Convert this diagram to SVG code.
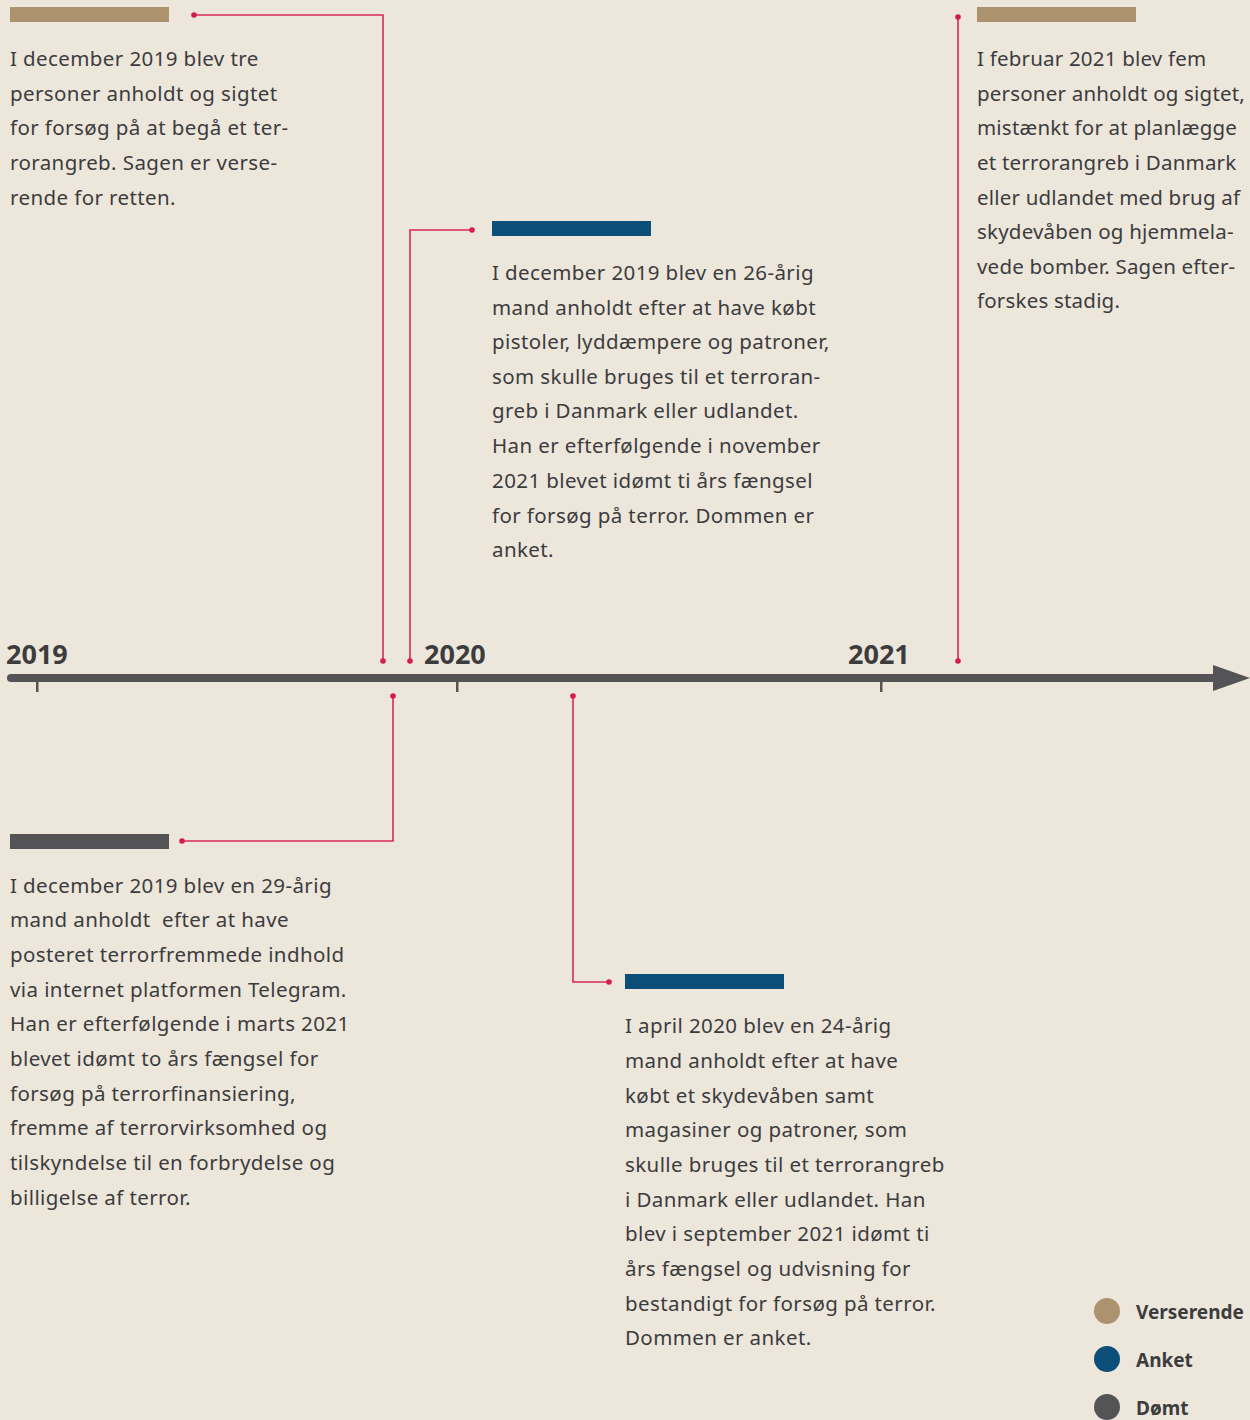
<svg xmlns="http://www.w3.org/2000/svg" width="1250" height="1420" viewBox="0 0 1250 1420">
<style>
.t{font-family:"Noto Sans","DejaVu Sans",sans-serif;font-size:20.5px;letter-spacing:0.4px;fill:#3c3c3e;white-space:pre}
.t3{letter-spacing:0.2px}
.yr{font-family:"Noto Sans","DejaVu Sans",sans-serif;font-size:27px;font-weight:bold;fill:#3c3c3e}
.lg{font-family:"Noto Sans","DejaVu Sans",sans-serif;font-size:19px;font-weight:bold;fill:#3c3c3e}
.c{fill:none;stroke:#d6295a;stroke-width:1.6}
.d{fill:#d41c4f}
.tan{fill:#ad9270}.blue{fill:#0b4f78}.gray{fill:#545457}
</style>
<rect width="1250" height="1420" fill="#ece6db"/>
<g id="axis">
<line x1="11" y1="678" x2="1216" y2="678" stroke="#545457" stroke-width="8" stroke-linecap="round"/>
<polygon points="1213,665 1250,678 1213,691" fill="#545457"/>
<rect x="36" y="678" width="2.5" height="14" fill="#545457"/>
<rect x="456" y="678" width="2.5" height="14" fill="#545457"/>
<rect x="880" y="678" width="2.5" height="14" fill="#545457"/>
<text class="yr" x="6" y="664">2019</text>
<text class="yr" x="424" y="664">2020</text>
<text class="yr" x="848" y="664">2021</text>
</g>
<g id="connectors">
<polyline class="c" points="194,15 383,15 383,661"/>
<circle class="d" cx="194" cy="15" r="2.8"/><circle class="d" cx="383" cy="661" r="2.8"/>
<polyline class="c" points="472,230 410,230 410,661"/>
<circle class="d" cx="472" cy="230" r="2.8"/><circle class="d" cx="410" cy="661" r="2.8"/>
<line class="c" x1="958" y1="17" x2="958" y2="661"/>
<circle class="d" cx="958" cy="17" r="2.8"/><circle class="d" cx="958" cy="661" r="2.8"/>
<polyline class="c" points="393,696 393,841 182,841"/>
<circle class="d" cx="393" cy="696" r="2.8"/><circle class="d" cx="182" cy="841" r="2.8"/>
<polyline class="c" points="573,696 573,982 609,982"/>
<circle class="d" cx="573" cy="696" r="2.8"/><circle class="d" cx="609" cy="982" r="2.8"/>
</g>
<g id="event1">
<rect class="tan" x="10" y="7" width="159" height="15"/>
<text class="t" x="10" y="66">I december 2019 blev tre</text>
<text class="t" x="10" y="101">personer anholdt og sigtet</text>
<text class="t" x="10" y="135">for forsøg på at begå et ter-</text>
<text class="t" x="10" y="170">rorangreb. Sagen er verse-</text>
<text class="t" x="10" y="205">rende for retten.</text>
</g>
<g id="event2">
<rect class="blue" x="492" y="221" width="159" height="15"/>
<text class="t" x="492" y="280">I december 2019 blev en 26-årig</text>
<text class="t" x="492" y="315">mand anholdt efter at have købt</text>
<text class="t" x="492" y="349">pistoler, lyddæmpere og patroner,</text>
<text class="t" x="492" y="384">som skulle bruges til et terroran-</text>
<text class="t" x="492" y="418">greb i Danmark eller udlandet.</text>
<text class="t" x="492" y="453">Han er efterfølgende i november</text>
<text class="t" x="492" y="488">2021 blevet idømt ti års fængsel</text>
<text class="t" x="492" y="523">for forsøg på terror. Dommen er</text>
<text class="t" x="492" y="557">anket.</text>
</g>
<g id="event3">
<rect class="tan" x="977" y="7" width="159" height="15"/>
<text class="t t3" x="977" y="66">I februar 2021 blev fem</text>
<text class="t t3" x="977" y="101">personer anholdt og sigtet,</text>
<text class="t t3" x="977" y="135">mistænkt for at planlægge</text>
<text class="t t3" x="977" y="170">et terrorangreb i Danmark</text>
<text class="t t3" x="977" y="205">eller udlandet med brug af</text>
<text class="t t3" x="977" y="239">skydevåben og hjemmela-</text>
<text class="t t3" x="977" y="274">vede bomber. Sagen efter-</text>
<text class="t t3" x="977" y="308">forskes stadig.</text>
</g>
<g id="event4">
<rect class="gray" x="10" y="834" width="159" height="15"/>
<text class="t" x="10" y="893">I december 2019 blev en 29-årig</text>
<text class="t" x="10" y="927">mand anholdt  efter at have</text>
<text class="t" x="10" y="962">posteret terrorfremmede indhold</text>
<text class="t" x="10" y="997">via internet platformen Telegram.</text>
<text class="t" x="10" y="1031">Han er efterfølgende i marts 2021</text>
<text class="t" x="10" y="1066">blevet idømt to års fængsel for</text>
<text class="t" x="10" y="1101">forsøg på terrorfinansiering,</text>
<text class="t" x="10" y="1135">fremme af terrorvirksomhed og</text>
<text class="t" x="10" y="1170">tilskyndelse til en forbrydelse og</text>
<text class="t" x="10" y="1205">billigelse af terror.</text>
</g>
<g id="event5">
<rect class="blue" x="625" y="974" width="159" height="15"/>
<text class="t" x="625" y="1033">I april 2020 blev en 24-årig</text>
<text class="t" x="625" y="1068">mand anholdt efter at have</text>
<text class="t" x="625" y="1103">købt et skydevåben samt</text>
<text class="t" x="625" y="1137">magasiner og patroner, som</text>
<text class="t" x="625" y="1172">skulle bruges til et terrorangreb</text>
<text class="t" x="625" y="1207">i Danmark eller udlandet. Han</text>
<text class="t" x="625" y="1241">blev i september 2021 idømt ti</text>
<text class="t" x="625" y="1276">års fængsel og udvisning for</text>
<text class="t" x="625" y="1311">bestandigt for forsøg på terror.</text>
<text class="t" x="625" y="1345">Dommen er anket.</text>
</g>
<g id="legend">
<circle class="tan" cx="1107" cy="1311" r="13"/>
<text class="lg" x="1136" y="1319">Verserende</text>
<circle class="blue" cx="1107" cy="1359" r="13"/>
<text class="lg" x="1136" y="1367">Anket</text>
<circle class="gray" cx="1107" cy="1407" r="13"/>
<text class="lg" x="1136" y="1415">Dømt</text>
</g>
</svg>
